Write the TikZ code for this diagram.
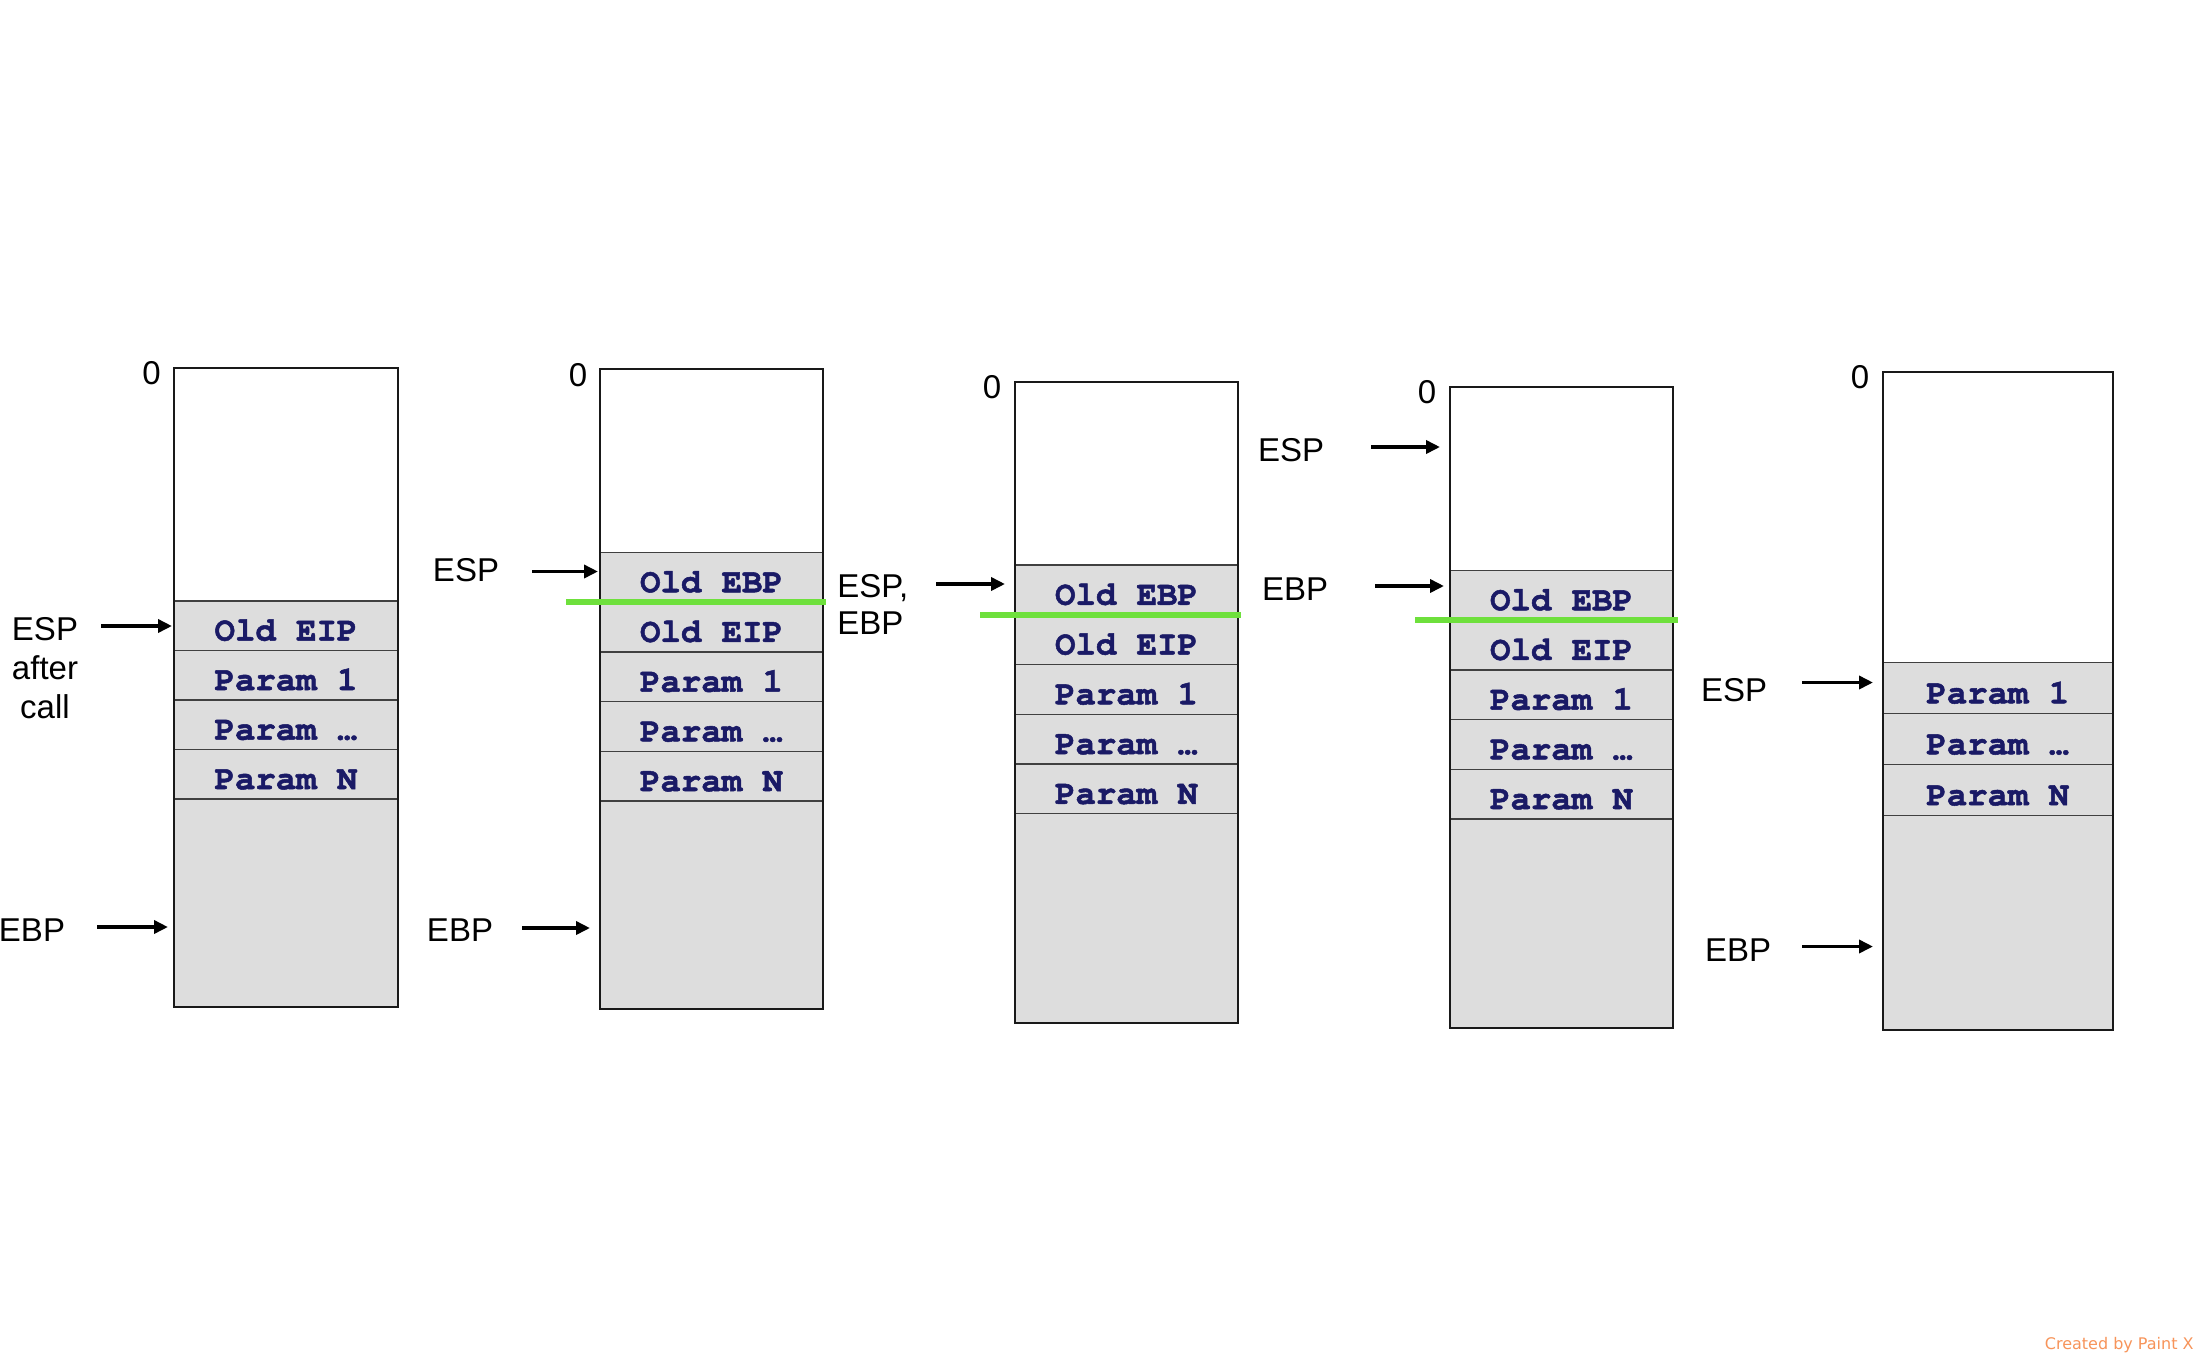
\documentclass[tikz,border=0pt]{standalone}
\usepackage{fontspec}
\setmainfont{Liberation Sans}
\newfontfamily\cellfont{TeX Gyre Cursor}[BoldFeatures={FakeBold=1.5}]
\newfontfamily\credfont{DejaVu Sans}
\usetikzlibrary{arrows.meta}
\definecolor{cellgrey}{HTML}{DDDDDD}
\definecolor{cellnavy}{HTML}{1A1A66}
\definecolor{framegreen}{HTML}{6EE03C}
\definecolor{creditorange}{HTML}{F7945A}
\tikzset{
  outerbox/.style={draw=black!90, line width=1pt},
  rowline/.style={draw=black!75, line width=0.7pt},
  cell/.style={font=\cellfont\bfseries\fontsize{17}{20}\selectfont, text=cellnavy, inner sep=0pt, anchor=base},
  lbl/.style={font=\fontsize{16.5}{19.5}\selectfont, inner sep=0pt, align=center},
  ptr/.style={line width=1.75pt, -{Triangle[length=7pt,width=6.5pt]}},
  frameline/.style={draw=framegreen, line width=2.8pt},
}
% #1 name, #2 x0, #3 x1, #4 top, #5 grey top, #6 bottom, #7 row height, #8 rows
\newcommand\memstack[8]{%
  \fill[cellgrey] (#2,#5) rectangle (#3,#6);
  \foreach \celltext [count=\i from 0] in {#8} {
    \draw[rowline] (#2,{#5+(\i+1)*#7}) -- (#3,{#5+(\i+1)*#7});
    \node[cell] (#1r\i) at ({(#2+#3)/2},{#5+(\i+0.8)*#7}) {\celltext};
  }
  \draw[rowline] (#2,#5) -- (#3,#5);
  \draw[outerbox] (#2,#4) rectangle (#3,#6);
}
\begin{document}
\begin{tikzpicture}[x=0.5pt,y=-0.5pt]
\useasboundingbox[fill=white] (0,0) rectangle (2200,1360);

% ---- stack 1
\memstack{s1}{174}{398}{368}{601}{1007}{49.5}{Old EIP,Param 1,Param …,Param N}
\node[lbl] (z1) at (151.5,373) {0};
\node[lbl] (esp1) at (45,668) {ESP\\after\\call};
\node[lbl] (ebp1) at (32,930) {EBP};
\coordinate (a1s) at (101,626); \coordinate (a1e) at (172,626);
\coordinate (b1s) at (97,927);  \coordinate (b1e) at (168,927);
\draw[ptr] (a1s) -- (a1e);
\draw[ptr] (b1s) -- (b1e);

% ---- stack 2
\memstack{s2}{600}{823}{369}{552.5}{1009}{49.7}{Old EBP,Old EIP,Param 1,Param …,Param N}
\coordinate (g2s) at (566,602.2); \coordinate (g2e) at (826,602.2);
\draw[frameline] (g2s) -- (g2e);
\node[lbl] (z2) at (578,375) {0};
\node[lbl] (esp2) at (466,570) {ESP};
\node[lbl] (ebp2) at (460,930) {EBP};
\coordinate (a2s) at (532,571.5); \coordinate (a2e) at (598,571.5);
\coordinate (b2s) at (522,928);   \coordinate (b2e) at (590,928);
\draw[ptr] (a2s) -- (a2e);
\draw[ptr] (b2s) -- (b2e);
\node[lbl, anchor=west, align=left, font=\fontsize{16.5}{18.5}\selectfont] (espebp) at (837,604) {ESP,\\EBP};

% ---- stack 3
\memstack{s3}{1015}{1238}{381.6}{565}{1022.8}{49.75}{Old EBP,Old EIP,Param 1,Param …,Param N}
\coordinate (g3s) at (980,614.75); \coordinate (g3e) at (1241,614.75);
\draw[frameline] (g3s) -- (g3e);
\node[lbl] (z3) at (992,387) {0};
\coordinate (a3s) at (936,584); \coordinate (a3e) at (1005,584);
\draw[ptr] (a3s) -- (a3e);
\node[lbl] (esp3) at (1291,450) {ESP};
\node[lbl] (ebp3) at (1295,589) {EBP};

% ---- stack 4
\memstack{s4}{1450}{1673}{387}{570.5}{1028}{49.7}{Old EBP,Old EIP,Param 1,Param …,Param N}
\coordinate (g4s) at (1415,620.2); \coordinate (g4e) at (1678,620.2);
\draw[frameline] (g4s) -- (g4e);
\node[lbl] (z4) at (1427,392) {0};
\coordinate (a4s) at (1371,447); \coordinate (a4e) at (1440,447);
\coordinate (b4s) at (1375,586); \coordinate (b4e) at (1444,586);
\draw[ptr] (a4s) -- (a4e);
\draw[ptr] (b4s) -- (b4e);

% ---- stack 5
\memstack{s5}{1883}{2112.6}{371.8}{662.5}{1029.8}{50.97}{Param 1,Param …,Param N}
\node[lbl] (z5) at (1860,377) {0};
\node[lbl] (esp5) at (1734,690) {ESP};
\node[lbl] (ebp5) at (1738,950) {EBP};
\coordinate (a5s) at (1802,682.5); \coordinate (a5e) at (1873,682.5);
\coordinate (b5s) at (1802,946.5); \coordinate (b5e) at (1873,946.5);
\draw[ptr] (a5s) -- (a5e);
\draw[ptr] (b5s) -- (b5e);

% ---- credit
\node[anchor=east, inner sep=0pt, text=creditorange, font=\credfont\fontsize{8}{9}\selectfont] (credit) at (2194,1345) {Created by Paint X};
\end{tikzpicture}
\end{document}
